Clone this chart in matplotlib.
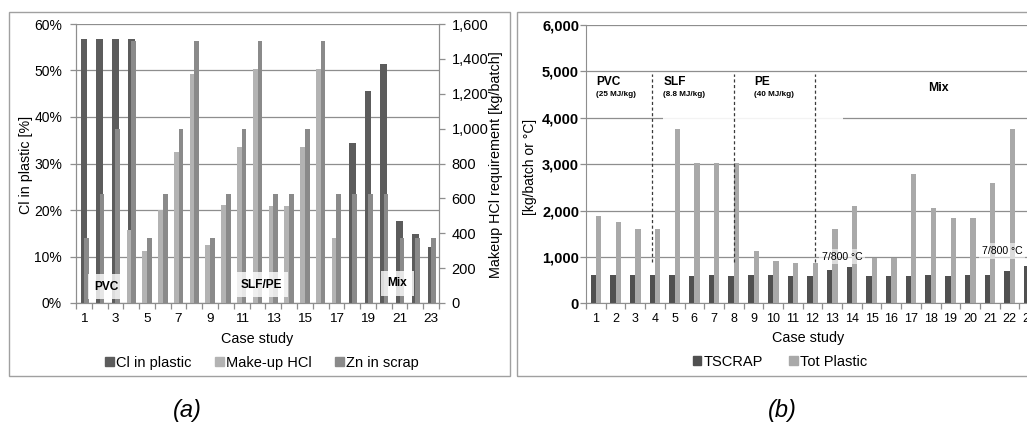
import matplotlib
matplotlib.use('Agg')
import matplotlib.pyplot as plt
from matplotlib.patches import Patch, Rectangle
from matplotlib.ticker import FuncFormatter, FixedLocator, MultipleLocator
import numpy as np

plt.rcParams['font.family'] = ['Liberation Sans', 'DejaVu Sans']

# ---------------- data ----------------
cases = list(range(1, 24))
# panel (a)
cl_in_plastic = [56.8, 56.8, 56.8, 56.8, 0, 0, 0, 0, 0, 0, 0, 0, 0, 0, 0, 0, 0,
                 34.4, 45.6, 51.3, 17.6, 14.8, 12.0]              # %
makeup_hcl = [0, 0, 0, 420, 300, 535, 865, 1315, 333, 560, 893, 1341,
              556, 556, 893, 1341, 373, 0, 0, 0, 0, 0, 0]          # kg/batch
zn_in_scrap = [373, 625, 1000, 1500, 373, 625, 1000, 1500, 373, 625, 1000, 1500,
               625, 625, 1000, 1500, 625, 625, 625, 625, 373, 373, 373]
group_labels_a = ['PVC', 'SLF/PE', 'Mix']
# panel (b)
tscrap = [611, 611, 611, 611, 611, 585, 611, 585, 611, 607, 586, 586,
          714, 786, 586, 586, 586, 607, 586, 607, 607, 700, 800]
tot_plastic = [1885, 1755, 1604, 1604, 3755, 3029, 3029, 3029, 1130, 906, 868, 871,
               1593, 2107, 986, 986, 2790, 2057, 1843, 1843, 2600, 3757, 5280]
group_labels_b = ['PVC', 'SLF', 'PE', 'Mix']
group_sub_b = ['(25 MJ/kg)', '(8.8 MJ/kg)', '(40 MJ/kg)']
temp_label = '7/800 \u00b0C'

W, H = 1027, 426
fig = plt.figure(figsize=(W / 100, H / 100), dpi=100)

def fx(px):
    return px / W

def fy(py):
    return 1 - py / H

GRID = '#8e8e8e'
SPINE = '#8e8e8e'
C_CL, C_HCL, C_ZN = '#5c5c5c', '#b3b3b3', '#8a8a8a'
C_TS, C_TP = '#505050', '#a9a9a9'

x = np.array(cases, dtype=float)

# ---------------- outer frames ----------------
fig.patches.append(Rectangle((fx(9), fy(376)), fx(501), 364 / H, transform=fig.transFigure,
                             fill=False, edgecolor='#a0a0a0', lw=1.0))
fig.patches.append(Rectangle((fx(517), fy(376)), fx(540), 364 / H, transform=fig.transFigure,
                             fill=False, edgecolor='#a0a0a0', lw=1.0))

# ---------------- panel (a) ----------------
ax1 = fig.add_axes([fx(76), fy(303), fx(363), 279 / H])
ax1.set_xlim(0.5, 23.5)
ax1.set_ylim(0, 60)
ax1.set_axisbelow(True)
ax1.yaxis.set_major_locator(MultipleLocator(10))
ax1.yaxis.grid(True, color=GRID, lw=0.9)
ax1.bar(x, cl_in_plastic, width=0.42, color=C_CL, zorder=2)
ax1.yaxis.set_major_formatter(FuncFormatter(lambda v, p: f'{v:.0f}%'))

ax2 = ax1.twinx()
ax2.set_ylim(0, 1600)
ax2.yaxis.set_major_locator(MultipleLocator(200))
ax2.yaxis.set_major_formatter(FuncFormatter(lambda v, p: f'{v:,.0f}'))
ax2.bar(x - 0.15, makeup_hcl, width=0.3, color=C_HCL, zorder=2)
ax2.bar(x + 0.15, zn_in_scrap, width=0.3, color=C_ZN, zorder=2)

for a in (ax1, ax2):
    a.spines['top'].set_visible(False)
    for s in ('left', 'right', 'bottom'):
        a.spines[s].set_color(SPINE)
    a.tick_params(axis='y', colors=SPINE, labelcolor='black', length=4, width=0.9)

ax1.tick_params(axis='y', labelsize=10, pad=6)
ax2.tick_params(axis='y', labelsize=10.5, pad=5)

ax1.xaxis.set_major_locator(FixedLocator(cases[::2]))
ax1.set_xticklabels([str(c) for c in cases[::2]])
ax1.xaxis.set_minor_locator(FixedLocator(np.arange(0.5, 24, 1.0)))
ax1.tick_params(axis='x', which='major', length=0, labelsize=9.7, pad=7)
ax1.tick_params(axis='x', which='minor', length=4, color=SPINE, width=0.9)

ax1.set_ylabel('Cl in plastic [%]', fontsize=10.3)
ax1.yaxis.set_label_coords((26 - 76) / 363, 0.495)
ax1.yaxis.label.set_va('center')
ax2.set_ylabel('Makeup HCl requirement [kg/batch]', fontsize=10.4)
ax2.yaxis.set_label_coords((496 - 76) / 363, 0.495)
ax2.yaxis.label.set_va('center')
ax1.set_xlabel('Case study', fontsize=10.4)
ax1.xaxis.set_label_coords((257 - 76) / 363, (303 - 339) / 279)
ax1.xaxis.label.set_va('center')

bbox_a = dict(boxstyle='square,pad=0.55', facecolor='white', edgecolor='none', alpha=0.8)
for lbl, (lx, ly) in zip(group_labels_a, [(2.45, 3.5), (12.23, 3.9), (20.85, 4.2)]):
    ax2.text(lx, ly * 1600 / 60, lbl, ha='center', va='center', fontsize=8.6,
             fontweight='bold', bbox=bbox_a, zorder=5)

fig.legend(handles=[Patch(color=C_CL, label='Cl in plastic'),
                    Patch(color=C_HCL, label='Make-up HCl'),
                    Patch(color=C_ZN, label='Zn in scrap')],
           loc='center', bbox_to_anchor=(fx(262), fy(363)), ncol=3, frameon=False,
           fontsize=10.5, handlelength=0.6, handleheight=0.6, handletextpad=0.15,
           columnspacing=1.6)

# ---------------- panel (b) ----------------
ax3 = fig.add_axes([fx(586), fy(303.3), fx(23 * 19.7), 278.3 / H])
ax3.set_xlim(0.5, 23.5)
ax3.set_ylim(0, 6000)
ax3.set_axisbelow(True)
ax3.yaxis.set_major_locator(MultipleLocator(1000))
ax3.yaxis.set_major_formatter(FuncFormatter(lambda v, p: f'{v:,.0f}'))
ax3.yaxis.grid(True, color=GRID, lw=0.9)
ax3.bar(x - 0.13, tscrap, width=0.28, color=C_TS, zorder=2, label='TSCRAP')
ax3.bar(x + 0.14, tot_plastic, width=0.27, color=C_TP, zorder=2, label='Tot Plastic')
for s in ('top', 'right'):
    ax3.spines[s].set_visible(False)
for s in ('left', 'bottom'):
    ax3.spines[s].set_color(SPINE)
ax3.tick_params(axis='y', colors=SPINE, labelcolor='black', length=4, width=0.9,
                labelsize=10.5, pad=1)
for t in ax3.get_yticklabels():
    t.set_fontweight('bold')
ax3.xaxis.set_major_locator(FixedLocator(cases))
ax3.set_xticklabels([str(c) for c in cases])
ax3.xaxis.set_minor_locator(FixedLocator(np.arange(0.5, 24, 1.0)))
ax3.tick_params(axis='x', which='major', length=0, labelsize=9.0, pad=7)
ax3.tick_params(axis='x', which='minor', length=4, color=SPINE, width=0.9)

ax3.set_ylabel('[kg/batch or \u00b0C]', fontsize=10)
ax3.yaxis.set_label_coords((530 - 586) / (23 * 19.7), 0.49)
ax3.yaxis.label.set_va('center')
ax3.set_xlabel('Case study', fontsize=10.4)
ax3.xaxis.set_label_coords((808 - 586) / (23 * 19.7), (303.3 - 338) / 278.3)
ax3.xaxis.label.set_va('center')

# white label box hiding part of the 4,000 gridline
ax3.add_patch(Rectangle((4.4, 3940), 9.15, 1000, facecolor='white', edgecolor='none',
                        alpha=0.9, zorder=1))
for dx in (3.84, 8.02, 12.13):
    ax3.plot([dx, dx], [880, 4950], color='#3a3a3a', lw=0.9, ls=(0, (2.5, 2)), zorder=4)

for lbl, gx in zip(group_labels_b[:3], (1.0, 4.42, 9.04)):
    ax3.text(gx, 4776, lbl, ha='left', va='center', fontsize=8.6, fontweight='bold', zorder=5)
for sub, gx in zip(group_sub_b, (1.0, 4.42, 9.04)):
    ax3.text(gx, 4500, sub, ha='left', va='center', fontsize=5.9, fontweight='bold', zorder=5)
ax3.text(18.37, 4646, group_labels_b[3], ha='center', va='center', fontsize=8.8,
         fontweight='bold', zorder=5)

bbox_b = dict(boxstyle='square,pad=0.25', facecolor='white', edgecolor='none', alpha=0.6)
ax3.text(12.46, 1004, temp_label, ha='left', va='center', fontsize=7.6, bbox=bbox_b, zorder=5)
ax3.text(20.6, 1127, temp_label, ha='left', va='center', fontsize=7.6, bbox=bbox_b, zorder=5)

fig.legend(handles=[Patch(color=C_TS, label='TSCRAP'), Patch(color=C_TP, label='Tot Plastic')],
           loc='center', bbox_to_anchor=(fx(780), fy(362)), ncol=2, frameon=False,
           fontsize=10.5, handlelength=0.6, handleheight=0.6, handletextpad=0.15,
           columnspacing=1.8)

fig.text(fx(187), fy(410), '(a)', ha='center', va='center', fontsize=17, fontstyle='italic')
fig.text(fx(782), fy(410), '(b)', ha='center', va='center', fontsize=17, fontstyle='italic')

fig.savefig('out.png', dpi=100)
